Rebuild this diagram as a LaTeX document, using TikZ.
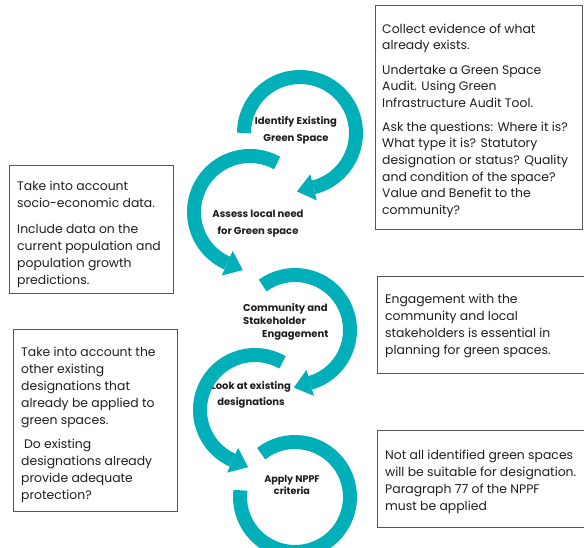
\documentclass[tikz,border=0pt]{standalone}
\usepackage{fontspec}
\setmainfont{Poppins}
\usetikzlibrary{calc}
\definecolor{arrowteal}{RGB}{0,175,183}
\definecolor{boxline}{RGB}{85,85,85}
\definecolor{txt}{RGB}{30,30,30}
\begin{document}
\begin{tikzpicture}[x=1pt,y=1pt,
  boxframe/.style={draw=boxline, line width=0.8pt, inner sep=0pt, outer sep=0pt, anchor=north west},
  boxtext/.style={anchor=north west, inner sep=0pt, align=left, text=txt, font=\fontsize{12.4}{17}\selectfont},
  steplabel/.style={inner sep=0pt, align=center, text=txt, font=\bfseries\fontsize{10}{17}\selectfont},
  arcbody/.style={draw=arrowteal, line width=14pt, line cap=butt},
  arrowhd/.style={fill=arrowteal}]
\useasboundingbox (0,0) rectangle (584,548);
\clip (0,0) rectangle (584,548);

% boxes
\node[boxframe, minimum width=207, minimum height=224] (b1) at (375,543) {};
\node[boxframe, minimum width=164, minimum height=128] (b2) at (9,383) {};
\node[boxframe, minimum width=164, minimum height=182] (b3) at (13,219) {};
\node[boxframe, minimum width=213, minimum height=97] (b4) at (377,272) {};
\node[boxframe, minimum width=213, minimum height=97] (b5) at (377,118) {};

\node[boxtext, font=\fontsize{12.4}{16.6}\selectfont] (t1) at (382,526.5) {\strut Collect evidence of what\\already exists.\\[7.5pt]Undertake a Green Space\\Audit. Using Green\\Infrastructure Audit Tool.\\[7.5pt]Ask the questions: Where it is?\\What type it is? Statutory\\designation or status? Quality\\and condition of the space?\\Value and Benefit to the\\community?};
\node[boxtext] (t2) at (17,369.5) {\strut Take into account\\socio-economic data.\\[9pt]Include data on the\\current population and\\population growth\\predictions.};
\node[boxtext] (t3) at (21,203.5) {\strut Take into account the\\other existing\\designations that\\already be applied to\\green spaces.\\[7pt]\hspace{3pt}Do existing\\designations already\\provide adequate\\protection?};
\node[boxtext, font=\fontsize{12.4}{17.2}\selectfont] (t4) at (385,257) {\strut Engagement with the\\community and local\\stakeholders is essential in\\planning for green spaces.};
\node[boxtext] (t5) at (385,101) {\strut Not all identified green spaces\\will be suitable for designation.\\Paragraph 77 of the NPPF\\must be applied};

% step labels
\node[steplabel] (l1) at (296,418) {Identify Existing\\Green Space};
\node[steplabel] (l2) at (258,324) {Assess local need\\for Green space};
\node[steplabel, align=left, anchor=north west, font=\bfseries\fontsize{10}{13}\selectfont] (l3) at (243,245) {Community and\\Stakeholder\\\hspace{19pt}Engagement};
\node[steplabel, font=\bfseries\fontsize{10}{16}\selectfont] (l4) at (251,153) {Look at existing\\designations};
\node[steplabel, font=\bfseries\fontsize{9.6}{12.5}\selectfont] (l5) at (292,63) {Apply NPPF\\criteria};

% centres of the circular arrows
\coordinate (c1) at (300,415);
\coordinate (c2) at (250,336);
\coordinate (c3) at (295,218);
\coordinate (c4) at (255,138);
\coordinate (c5) at (295,51);

% arrow 1 (clockwise)
\draw[arcbody] ($(c1)+(180:56)$) arc[start angle=180, end angle=-76, radius=56];
\fill[arrowhd] ($(c1)+(-76:69.5)$) -- ($(c1)+(-76:42.5)$) -- ($(c1)+(-76:56)+(-166:17)$) -- cycle;
% arrow 2 (counter-clockwise)
\draw[arcbody] ($(c2)+(61:56)$) arc[start angle=61, end angle=246, radius=56];
\fill[arrowhd] ($(c2)+(246:69.5)$) -- ($(c2)+(246:42.5)$) -- ($(c2)+(246:56)+(336:17)$) -- cycle;
% arrow 3 (clockwise)
\draw[arcbody] ($(c3)+(126:55)$) arc[start angle=126, end angle=-74, radius=55];
\fill[arrowhd] ($(c3)+(-74:68.5)$) -- ($(c3)+(-74:41.5)$) -- ($(c3)+(-74:55)+(-164:17)$) -- cycle;
% arrow 4 (counter-clockwise)
\draw[arcbody] ($(c4)+(60:55)$) arc[start angle=60, end angle=246, radius=55];
\fill[arrowhd] ($(c4)+(246:68.5)$) -- ($(c4)+(246:41.5)$) -- ($(c4)+(246:55)+(336:17)$) -- cycle;
% ring 5
\draw[arcbody] ($(c5)+(128:55)$) arc[start angle=128, end angle=-187, radius=55];
\end{tikzpicture}
\end{document}
